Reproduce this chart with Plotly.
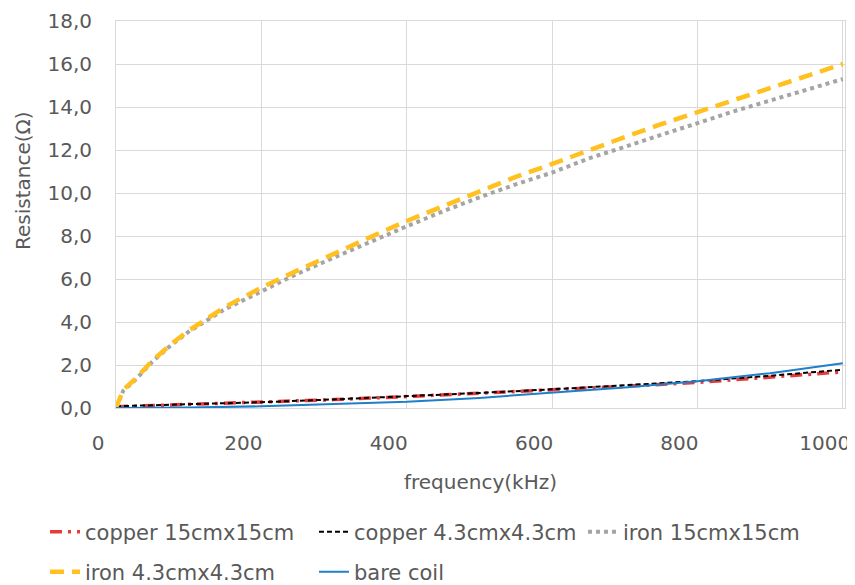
import plotly.graph_objects as go

freq = [0, 10, 25, 50, 75, 100, 150, 200, 250, 300, 350, 400, 450, 500,
        550, 600, 650, 700, 750, 800, 850, 900, 950, 1000]

iron_43 = [0.0, 0.85, 1.3, 2.2, 2.95, 3.6, 4.7, 5.6, 6.4, 7.2, 7.95, 8.7, 9.4, 10.1,
           10.75, 11.35, 12.0, 12.6, 13.2, 13.75, 14.35, 14.9, 15.45, 16.0]
iron_15 = [0.0, 0.8, 1.25, 2.15, 2.9, 3.55, 4.6, 5.45, 6.25, 7.0, 7.75, 8.45, 9.15, 9.8,
           10.4, 10.95, 11.6, 12.15, 12.7, 13.25, 13.8, 14.3, 14.8, 15.3]

freq_lo = [0, 100, 200, 300, 400, 500, 600, 700, 800, 900, 1000]
copper_15 = [0.06, 0.16, 0.27, 0.39, 0.53, 0.68, 0.84, 1.01, 1.19, 1.42, 1.68]
copper_43 = [0.08, 0.17, 0.27, 0.4, 0.54, 0.7, 0.87, 1.05, 1.25, 1.5, 1.78]
bare_coil = [0.0, 0.02, 0.08, 0.17, 0.29, 0.47, 0.7, 0.95, 1.25, 1.62, 2.08]

names = ["copper 15cmx15cm", "copper 4.3cmx4.3cm", "iron 15cmx15cm",
         "iron 4.3cmx4.3cm", "bare coil"]
x_title = "frequency(kHz)"
y_title = "Resistance(Ω)"

FONT = "'DejaVu Sans', sans-serif"
GRID = "#d9d9d9"
TXT = "#595959"

fig = go.Figure()
fig.add_trace(go.Scatter(x=freq_lo, y=copper_15, mode="lines", name=names[0], legend="legend",
                         line=dict(color="#e83c3c", width=3.5, dash="12px,6px,3px,6px")))
fig.add_trace(go.Scatter(x=freq_lo, y=copper_43, mode="lines", name=names[1], legend="legend",
                         line=dict(color="#000000", width=2, dash="5px,3px")))
fig.add_trace(go.Scatter(x=freq, y=iron_15, mode="lines", name=names[2], legend="legend",
                         line=dict(color="#a5a5a5", width=4, dash="dot")))
fig.add_trace(go.Scatter(x=freq, y=iron_43, mode="lines", name=names[3], legend="legend2",
                         line=dict(color="#ffc020", width=4.5, dash="14px,8px")))
fig.add_trace(go.Scatter(x=freq_lo, y=bare_coil, mode="lines", name=names[4], legend="legend2",
                         line=dict(color="#1f7fc8", width=2)))

leg_common = dict(orientation="h", xanchor="left", yanchor="middle",
                  font=dict(size=21, color=TXT, family=FONT), entrywidth=224,
                  entrywidthmode="pixels", itemwidth=30, bgcolor="rgba(0,0,0,0)")

# page body has an 8px default margin, so the figure is offset by (8, 8)
fig.update_layout(
    width=847, height=577,
    margin=dict(l=108, r=10, t=13, b=177, autoexpand=False),
    paper_bgcolor="white", plot_bgcolor="white",
    font=dict(family=FONT, color=TXT, size=20),
    separators=",.",
    showlegend=True,
    legend=dict(x=-0.0974, y=-0.3204, **leg_common),
    legend2=dict(x=-0.0974, y=-0.4238, **leg_common),
    xaxis=dict(range=[0, 1003], dtick=200, tick0=0, showgrid=True, gridcolor=GRID,
               gridwidth=1, showline=True, linecolor=GRID, mirror=True, zeroline=False,
               ticks="", tickfont=dict(size=20, color=TXT), ticklabelshift=-18,
               ticklabelstandoff=17, automargin=False,
               title=dict(text=x_title, font=dict(size=20, color=TXT), standoff=20)),
    yaxis=dict(range=[0, 18], dtick=2, tick0=0, tickformat=".1f", showgrid=True,
               gridcolor=GRID, gridwidth=1, showline=True, linecolor=GRID, mirror=True,
               zeroline=False, ticks="", tickfont=dict(size=20, color=TXT),
               ticklabelstandoff=19, automargin=False),
    annotations=[dict(text=y_title, textangle=-90, xref="paper", yref="paper",
                      x=-0.1276, y=0.589, xanchor="center", yanchor="middle",
                      showarrow=False, font=dict(size=20, color=TXT, family=FONT))],
)

fig.write_html("out.html")
